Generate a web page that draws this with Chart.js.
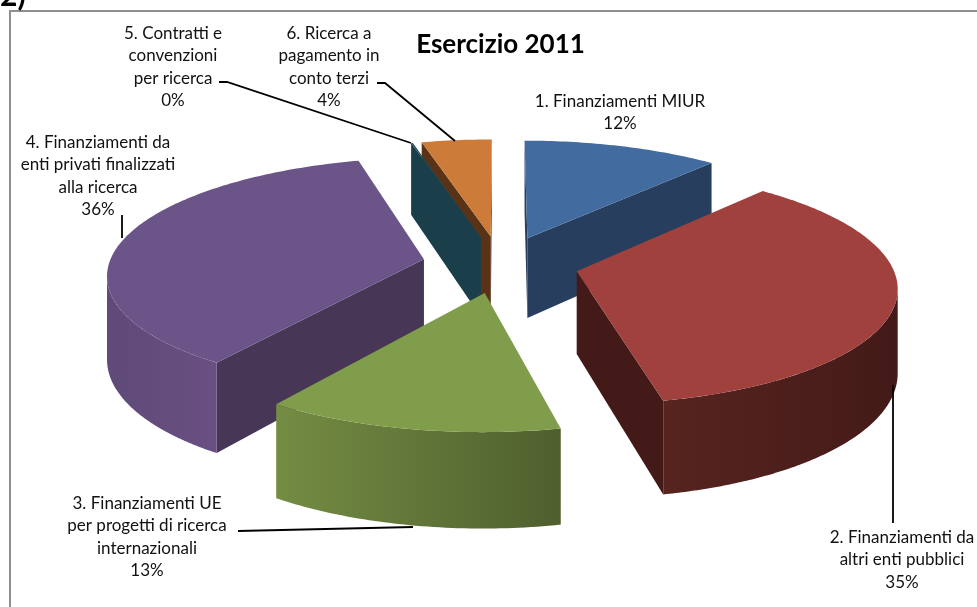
<!DOCTYPE html>
<html><head><meta charset="utf-8">
<style>html,body{margin:0;padding:0;background:#fff}canvas{display:block}</style>
<script src="https://cdn.jsdelivr.net/npm/chart.js@4"></script>
</head><body><canvas id="c" width="977" height="607"></canvas>
<script>
const categories = ["1. Finanziamenti MIUR","2. Finanziamenti da altri enti pubblici","3. Finanziamenti UE per progetti di ricerca internazionali","4. Finanziamenti da enti privati finalizzati alla ricerca","5. Contratti e convenzioni per ricerca","6. Ricerca a pagamento in conto terzi"];
const values = [11.5,35.1,13.1,36.1,0.1,4.1];
const topColors = ["#426c9f","#a0413e","#7f9d4a","#6a5488","#1f4a56","#cc7c38"];
const wallColors = ["#283e5e","#441a18","#4f5f2e","#473655","#1b3f4a","#5a3317"];
const outerLeft = ["#2d4569","#57241f","#748c43","#5f4a78","#1f4a56","#6a3b1a"];
const outerRight = ["#283e5e","#431a18","#4f5f2e","#694f82","#1b3f4a","#5a3317"];
const labelLines = [["1. Finanziamenti MIUR"],["2. Finanziamenti da","altri enti pubblici"],["3. Finanziamenti UE","per progetti di ricerca","internazionali"],["4. Finanziamenti da","enti privati finalizzati","alla ricerca"],["5. Contratti e","convenzioni","per ricerca"],["6. Ricerca a","pagamento in","conto terzi"]];
const titleText = "Esercizio 2011";
const cornerText = "2)";

const FONT = 'Lato,"Noto Sans",sans-serif';
const labelBoxes = [{x:620,y:107},{x:902,y:543},{x:147,y:509},{x:98,y:148},{x:173,y:39},{x:329,y:39}];
const leaders = [null,[[893,385],[893,523]],[[238,531],[413,527]],[[122,215],[122,238]],[[219,82],[227,82],[411,143]],[[377,83],[385,83],[455,141]]];

const P = {sx:315, ky:115, persp:0.12, depth:82};
function project(cx,cy,u,v,down){
  const w = 1 + P.persp*v;
  return {x:cx + P.sx*u/w, y:cy - P.ky*v/w + (down?P.depth/w:0)};
}
const pie3d = {
  id:'pie3d',
  beforeDraw(chart){
    const c = chart.ctx; c.save();
    c.fillStyle='#fff'; c.fillRect(0,0,977,607);
    c.strokeStyle='#8f8f8f'; c.lineWidth=2;
    c.beginPath(); c.moveTo(10,607); c.lineTo(10,11); c.lineTo(977,11); c.stroke();
    c.fillStyle='#000'; c.font='bold 30px '+FONT; c.textAlign='left'; c.textBaseline='alphabetic';
    c.fillText(cornerText,0,6);
    c.restore();
  },
  beforeDatasetDraw(chart,args){
    const c = chart.ctx, arcs = chart.getDatasetMeta(args.index).data;
    const order = arcs.map((a,i)=>i).sort((a,b)=>{
      const m = k => (arcs[k].startAngle+arcs[k].endAngle)/2 + Math.PI/2;
      return Math.cos(m(b)) - Math.cos(m(a)) > 0 ? 1 : -1;
    });
    c.save();
    for(const i of order){
      const a = arcs[i], t0 = a.startAngle+Math.PI/2, t1 = a.endAngle+Math.PI/2, mid=(t0+t1)/2;
      const e = a.options.offset/a.outerRadius;
      const ou = e*Math.sin(mid), ov = e*Math.cos(mid);
      const pt = (t,down)=>project(a.x,a.y,ou+Math.sin(t),ov+Math.cos(t),down);
      const tip = project(a.x,a.y,ou,ov,false), tipB = project(a.x,a.y,ou,ov,true);
      const M = pt(mid,false);
      const N = Math.max(4,Math.ceil((t1-t0)*60));
      // radial walls
      for(const t of [t0,t1]){
        const p = pt(t,false), pB = pt(t,true);
        const dx=p.x-tip.x, dy=p.y-tip.y;
        const sideM = dx*(M.y-tip.y)-dy*(M.x-tip.x), sideDown = dx;
        if(sideM*sideDown<0){
          c.fillStyle = wallColors[i];
          c.beginPath(); c.moveTo(tip.x,tip.y); c.lineTo(p.x,p.y); c.lineTo(pB.x,pB.y); c.lineTo(tipB.x,tipB.y); c.closePath(); c.fill();
        }
      }
      // outer wall: only the arc segments that face the viewer
      const front=[];
      for(let k=0;k<N;k++){
        const s0=t0+(t1-t0)*k/N, s1=t0+(t1-t0)*(k+1)/N;
        if(pt(s1,false).x<pt(s0,false).x){ front.push(s0,s1); }
      }
      if(front.length){
        const from=front[0], to=front[front.length-1];
        const xs=[pt(from,false).x,pt(to,false).x];
        const g=c.createLinearGradient(Math.min(...xs),0,Math.max(...xs),0);
        g.addColorStop(0,outerLeft[i]); g.addColorStop(1,outerRight[i]);
        c.fillStyle=g; c.beginPath();
        for(let k=0;k<=N;k++){const s=from+(to-from)*k/N,p=pt(s,false); k?c.lineTo(p.x,p.y):c.moveTo(p.x,p.y);}
        for(let k=N;k>=0;k--){const s=from+(to-from)*k/N,p=pt(s,true); c.lineTo(p.x,p.y);}
        c.closePath(); c.fill();
      }
      // top face
      c.fillStyle = topColors[i];
      c.beginPath(); c.moveTo(tip.x,tip.y);
      for(let k=0;k<=N;k++){const p=pt(t0+(t1-t0)*k/N,false); c.lineTo(p.x,p.y);}
      c.closePath(); c.fill();
    }
    c.restore();
    return false;
  },
  afterDatasetsDraw(chart){
    const c = chart.ctx, total = values.reduce((s,v)=>s+v,0);
    c.save();
    c.strokeStyle='#000'; c.lineWidth=1.8;
    for(const l of leaders){
      if(!l) continue;
      c.beginPath(); l.forEach((p,k)=>k?c.lineTo(p[0],p[1]):c.moveTo(p[0],p[1])); c.stroke();
    }
    c.fillStyle='#111'; c.font='17px '+FONT; c.textAlign='center'; c.textBaseline='alphabetic';
    labelLines.forEach((lines,i)=>{
      const all = lines.concat([Math.round(values[i]/total*100)+'%']);
      all.forEach((s,k)=>c.fillText(s,labelBoxes[i].x,labelBoxes[i].y+k*22.3));
    });
    c.restore();
  }
};
new Chart(document.getElementById('c'),{
  type:'pie',
  data:{labels:categories,datasets:[{data:values,backgroundColor:topColors,borderWidth:0,offset:45}]},
  plugins:[pie3d],
  options:{
    responsive:false,animation:false,events:[],
    layout:{padding:{left:24,bottom:139}},
    plugins:{
      legend:{display:false},tooltip:{enabled:false},
      title:{display:true,text:titleText,color:'#000',font:{family:FONT,size:26,weight:'bold'},padding:{top:29,bottom:0}}
    }
  }
});
</script></body></html>
